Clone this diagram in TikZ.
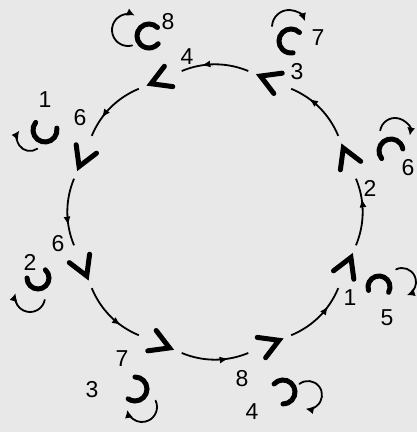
\documentclass[tikz,border=0pt]{standalone}
\usepackage{fontspec}
\setsansfont{Liberation Sans}
\usetikzlibrary{arrows.meta,decorations.markings}
\definecolor{paper}{gray}{0.91}
\tikzset{
  spot/.style={circle, minimum size=46pt, inner sep=0pt},
  ring/.style={line width=1.8pt, postaction={decorate},
    decoration={markings, mark=at position 0.7 with {\arrow{Latex[length=9pt,width=7pt]}}}},
  num/.style={font=\sffamily\fontsize{23}{27}\selectfont, inner sep=0pt},
  hook/.style={line width=5pt, line cap=round},
  twist/.style={line width=1.8pt, line cap=round, -{Latex[length=8pt,width=8pt]}},
  chev/.style={line width=5pt, line cap=round, line join=miter},
  pics/chevron/.style={code={\draw[chev] (-9,11)--(10,0)--(-9,-11);}}
}

\begin{document}
\begin{tikzpicture}[x=1pt,y=1pt]
\fill[paper] (0,0) rectangle (417,432);
\useasboundingbox (0,0) rectangle (417,432);
\begin{scope}[shift={(215,220)}]
% stations on the ring
\node[spot] (p1) at (-22.5:143) {};
\node[spot] (p2) at (22.5:143) {};
\node[spot] (p3) at (67.5:143) {};
\node[spot] (p4) at (112.5:143) {};
\node[spot] (p5) at (157.5:143) {};
\node[spot] (p6) at (202.5:143) {};
\node[spot] (p7) at (247.5:143) {};
\node[spot] (p8) at (292.5:143) {};
\pic[rotate=67.5] at (p1) {chevron};
\pic[rotate=112.5] at (p2) {chevron};
\pic[rotate=157.5] at (p3) {chevron};
\pic[rotate=202.5] at (p4) {chevron};
\pic[rotate=247.5] at (p5) {chevron};
\pic[rotate=292.5] at (p6) {chevron};
\pic[rotate=337.5] at (p7) {chevron};
\pic[rotate=22.5] at (p8) {chevron};
% ring segments
\draw[ring] (p1) to[bend right=22.5, looseness=0.9] (p2);
\draw[ring] (p2) to[bend right=22.5, looseness=0.9] (p3);
\draw[ring] (p3) to[bend right=22.5, looseness=0.9] (p4);
\draw[ring] (p4) to[bend right=22.5, looseness=0.9] (p5);
\draw[ring] (p5) to[bend right=22.5, looseness=0.9] (p6);
\draw[ring] (p6) to[bend right=22.5, looseness=0.9] (p7);
\draw[ring] (p7) to[bend right=22.5, looseness=0.9] (p8);
\draw[ring] (p8) to[bend right=22.5, looseness=0.9] (p1);
\end{scope}
% inner numbers
\node[num] (i1) at (350,134) {1};
\node[num] (i2) at (370,244) {2};
\node[num] (i3) at (297,360) {3};
\node[num] (i4) at (187,375) {4};
\node[num] (i5) at (80,314) {6};
\node[num] (i6) at (58,188) {6};
\node[num] (i7) at (122,73) {7};
\node[num] (i8) at (242,53) {8};
% outer numbers
\node[num] (o1) at (387,114) {5};
\node[num] (o2) at (408,264) {6};
\node[num] (o3) at (318,394) {7};
\node[num] (o4) at (168,410) {8};
\node[num] (o5) at (45,332) {1};
\node[num] (o6) at (30,170) {2};
\node[num] (o7) at (92,42) {3};
\node[num] (o8) at (252,20) {4};
% spin marks
\draw[hook] (379,145) ++(198:11) arc[start angle=198, end angle=-29, radius=11];
\draw[twist] (402,150) ++(115:14) arc[start angle=115, end angle=-70, radius=14];
\draw[hook] (391,281) ++(219:12) arc[start angle=219, end angle=10, radius=12];
\draw[twist] (395,299) ++(170:15) arc[start angle=170, end angle=-10, radius=15];
\draw[hook] (291,391) ++(45:12) arc[start angle=45, end angle=280, radius=12];
\draw[twist] (289,405) ++(177:17) arc[start angle=177, end angle=20, radius=17];
\draw[hook] (149,396) ++(45:12) arc[start angle=45, end angle=320, radius=12];
\draw[twist] (128,402) ++(285:16) arc[start angle=285, end angle=65, radius=16];
\draw[hook] (45,302) ++(141:12) arc[start angle=141, end angle=369, radius=12];
\draw[twist] (30,294) ++(304:13) arc[start angle=304, end angle=145, radius=13];
\draw[hook] (38,154) ++(180:11) arc[start angle=180, end angle=408, radius=11];
\draw[twist] (30,135) ++(-11:15) arc[start angle=-11, end angle=-195, radius=15];
\draw[hook] (135,43) ++(90:12) arc[start angle=90, end angle=-125, radius=12];
\draw[twist] (142,25) ++(25:15) arc[start angle=25, end angle=-169, radius=15];
\draw[hook] (283,40) ++(138:12) arc[start angle=138, end angle=-90, radius=12];
\draw[twist] (308,37) ++(128:14) arc[start angle=128, end angle=-100, radius=14];
\end{tikzpicture}
\end{document}
